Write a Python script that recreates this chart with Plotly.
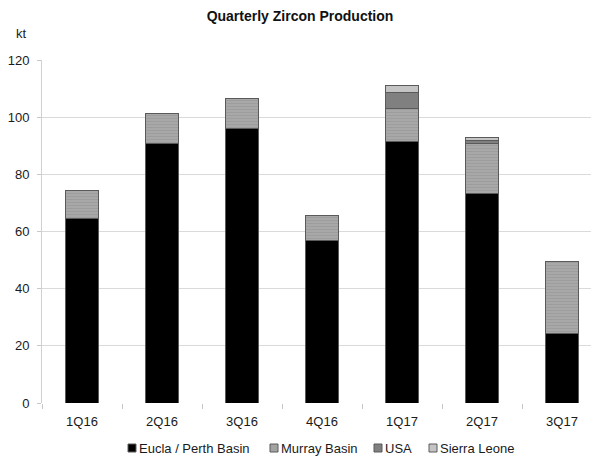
import plotly.graph_objects as go

quarters = ["1Q16", "2Q16", "3Q16", "4Q16", "1Q17", "2Q17", "3Q17"]
eucla = [64.6, 90.9, 96.1, 57.0, 91.4, 73.4, 24.4]
murray = [9.7, 10.5, 10.4, 8.5, 11.7, 17.5, 25.2]
usa = [0, 0, 0, 0, 5.7, 1.1, 0]
sierra = [0, 0, 0, 0, 2.2, 1.0, 0]
y_ticks = [0, 20, 40, 60, 80, 100, 120]
series_names = ["Eucla / Perth Basin", "Murray Basin", "USA", "Sierra Leone"]
series_colors = ["#000000", "#a3a3a3", "#808080", "#c4c4c4"]

FONT = "Liberation Sans, Arial, sans-serif"
line = dict(color="#5a5a5a", width=1)

# layout geometry (page has an 8px body offset)
W, H = 599, 463
L, R, T, B = 34, 5, 52, 68
PW, PH = W - L - R, H - T - B
OFF = 8


def px(sx):
    return (sx - OFF - L) / PW


def py(sy):
    return (H - B - (sy - OFF)) / PH


fig = go.Figure()
fig.add_trace(go.Bar(x=quarters, y=eucla, name=series_names[0],
                     marker=dict(color=series_colors[0], line=line)))
fig.add_trace(go.Bar(x=quarters, y=murray, name=series_names[1],
                     marker=dict(color=series_colors[1], line=line,
                                 pattern=dict(shape="-", size=3, solidity=0.3,
                                              fgcolor="#909090", bgcolor="#a8a8a8"))))
fig.add_trace(go.Bar(x=quarters, y=usa, name=series_names[2],
                     marker=dict(color=series_colors[2], line=line)))
fig.add_trace(go.Bar(x=quarters, y=sierra, name=series_names[3],
                     marker=dict(color=series_colors[3], line=line)))

# custom legend (squares + labels)
legend_sq_x = [128, 270, 374, 429]
shapes = []
annotations = []
for name, col, sx in zip(series_names, series_colors, legend_sq_x):
    shapes.append(dict(type="rect", xref="paper", yref="paper",
                       x0=px(sx), x1=px(sx + 8), y0=py(452), y1=py(444),
                       fillcolor=col, line=dict(color="#5a5a5a", width=1)))
    annotations.append(dict(text=name, x=px(sx + 9), y=py(448), xref="paper", yref="paper",
                            xanchor="left", yanchor="middle", showarrow=False,
                            font=dict(family=FONT, size=13, color="#1a1a1a")))

annotations.append(dict(text="kt", x=px(21), y=py(33), xref="paper", yref="paper",
                        xanchor="center", yanchor="middle", showarrow=False,
                        font=dict(family=FONT, size=13, color="#1a1a1a")))

fig.update_layout(
    barmode="stack",
    bargap=0.59,
    width=W, height=H,
    margin=dict(l=L, r=R, t=T, b=B, autoexpand=False),
    paper_bgcolor="white", plot_bgcolor="white",
    font=dict(family=FONT, size=13, color="#1a1a1a"),
    title=dict(text="<b>Quarterly Zircon Production</b>", x=(300 - OFF) / W, xanchor="center",
               y=1 - 3 / H, yanchor="top", yref="container", pad=dict(t=0, b=0),
               font=dict(family="Liberation Sans Narrow, Arial Narrow, Liberation Sans, Arial",
                         size=14, color="#111111")),
    showlegend=False,
    xaxis=dict(showline=False, ticks="outside", tickson="boundaries", ticklen=5,
               tickcolor="#c8c8c8", showgrid=False, range=[-0.5, 6.5],
               ticklabelstandoff=9, automargin=False),
    yaxis=dict(range=[0, 120], tickvals=y_ticks, showline=True, linecolor="#d0d0d0",
               linewidth=1, ticks="outside", ticklen=4, tickcolor="#c8c8c8",
               showgrid=True, gridcolor="#dadada", gridwidth=1, zeroline=False,
               ticklabelstandoff=5, automargin=False),
    shapes=shapes,
    annotations=annotations,
)

fig.write_html("out.html")
